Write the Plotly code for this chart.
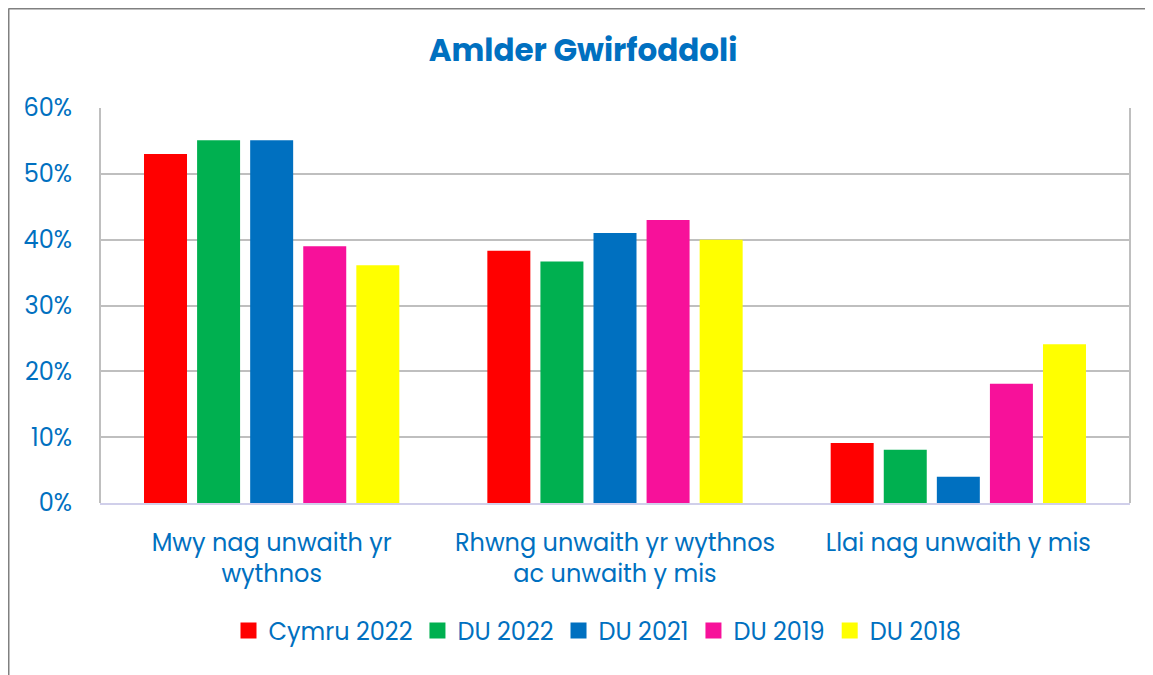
import plotly.graph_objects as go

categories = ["Mwy nag unwaith yr<br>wythnos", "Rhwng unwaith yr wythnos<br>ac unwaith y mis", "Llai nag unwaith y mis"]
series_names = ["Cymru 2022", "DU 2022", "DU 2021", "DU 2019", "DU 2018"]
cymru_2022 = [0.53, 0.383, 0.091]
du_2022 = [0.551, 0.367, 0.081]
du_2021 = [0.551, 0.41, 0.04]
du_2019 = [0.39, 0.43, 0.181]
du_2018 = [0.361, 0.40, 0.241]
colors = ["#FF0000", "#00B050", "#0070C0", "#F7119A", "#FFFF00"]
y_ticks = [0, 0.1, 0.2, 0.3, 0.4, 0.5, 0.6]
y_tick_labels = ["0%", "10%", "20%", "30%", "40%", "50%", "60%"]

series = [cymru_2022, du_2022, du_2021, du_2019, du_2018]
blue = "#0070C0"
font_family = "Poppins, Lato, 'Open Sans', sans-serif"

fig = go.Figure()
for name, vals, col in zip(series_names, series, colors):
    fig.add_trace(go.Bar(x=categories, y=vals, name=name, showlegend=False,
                         marker=dict(color=col, line=dict(width=0))))
# legend entries with larger square swatches
for name, col in zip(series_names, colors):
    fig.add_trace(go.Scatter(x=[None], y=[None], name=name, mode="markers",
                             marker=dict(symbol="square", size=16, color=col)))

# page has an 8px body margin, so the figure is laid out 8px up/left
W, H = 1145, 667
L, R, T, B = 92, 23, 100, 172
pw, ph = W - L - R, H - T - B

fig.update_layout(
    width=W, height=H,
    margin=dict(l=L, r=R, t=T, b=B),
    paper_bgcolor="white", plot_bgcolor="white",
    barmode="group", bargap=0.227, bargroupgap=0.19,
    font=dict(family=font_family, color=blue, size=24),
    title=dict(text="<b>Amlder Gwirfoddoli</b>", x=575 / W, xanchor="center",
               y=1 - 42 / H, yanchor="middle",
               font=dict(size=31, color=blue, family=font_family)),
    legend=dict(orientation="h", x=(589.5 - L) / pw, xanchor="center",
                y=-(623 - (H - B)) / ph, yanchor="middle",
                font=dict(size=24, color=blue),
                itemwidth=30, traceorder="normal", itemsizing="trace"),
    showlegend=True,
)
fig.update_xaxes(showline=True, linecolor="#D0CFEA", linewidth=2,
                 tickfont=dict(size=24, color=blue), ticks="", showgrid=False,
                 ticklabelstandoff=17)
fig.update_yaxes(range=[0, 0.6], tickvals=y_ticks, ticktext=y_tick_labels,
                 showgrid=True, gridcolor="#BFBFBF", gridwidth=2,
                 tickfont=dict(size=24, color=blue), ticks="", ticklabelstandoff=27,
                 zeroline=False)
# plot area frame (left, right)
fig.add_shape(type="line", xref="paper", yref="paper", x0=0, x1=0, y0=0, y1=1,
              line=dict(color="#BFBFBF", width=2))
fig.add_shape(type="line", xref="paper", yref="paper", x0=1, x1=1, y0=0, y1=1,
              line=dict(color="#BFBFBF", width=2))
# outer chart border (left and top edges)
bx = (0.5 - L) / pw
by = (H - B - 0.5) / ph
fig.add_shape(type="line", xref="paper", yref="paper",
              x0=bx, x1=bx, y0=(H - B - 700) / ph, y1=by,
              line=dict(color="#808080", width=2))
fig.add_shape(type="line", xref="paper", yref="paper",
              x0=bx, x1=(1200 - L) / pw, y0=by, y1=by,
              line=dict(color="#808080", width=2))

fig.write_html("out.html")
